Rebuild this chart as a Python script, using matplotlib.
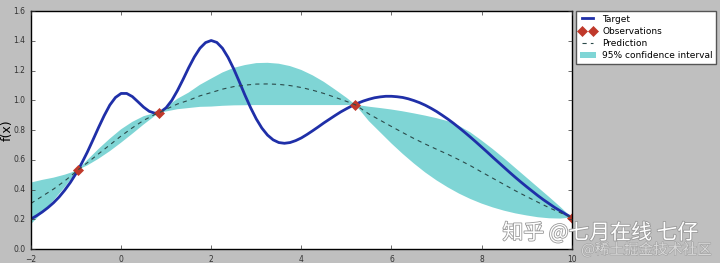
import numpy as np
import matplotlib
matplotlib.use("Agg")
import matplotlib.pyplot as plt
import matplotlib.patheffects as pe

# target function
x_target = [-2.0, -1.875, -1.75, -1.625, -1.5, -1.375, -1.25, -1.125,
            -1.0, -0.875, -0.75, -0.625, -0.5, -0.375, -0.25, -0.125,
            0.0, 0.125, 0.25, 0.375, 0.5, 0.625, 0.75, 0.875,
            1.0, 1.125, 1.25, 1.375, 1.5, 1.625, 1.75, 1.875,
            2.0, 2.125, 2.25, 2.375, 2.5, 2.625, 2.75, 2.875,
            3.0, 3.125, 3.25, 3.375, 3.5, 3.625, 3.75, 3.875,
            4.0, 4.125, 4.25, 4.375, 4.5, 4.625, 4.75, 4.875,
            5.0, 5.125, 5.25, 5.375, 5.5, 5.625, 5.75, 5.875,
            6.0, 6.125, 6.25, 6.375, 6.5, 6.625, 6.75, 6.875,
            7.0, 7.125, 7.25, 7.375, 7.5, 7.625, 7.75, 7.875,
            8.0, 8.125, 8.25, 8.375, 8.5, 8.625, 8.75, 8.875,
            9.0, 9.125, 9.25, 9.375, 9.5, 9.625, 9.75, 9.875, 10.0]
y_target = [0.202, 0.224, 0.249, 0.278, 0.311, 0.350, 0.396, 0.448,
            0.508, 0.576, 0.651, 0.733, 0.817, 0.897, 0.968, 1.019,
            1.046, 1.046, 1.025, 0.990, 0.954, 0.926, 0.913, 0.921,
            0.950, 0.999, 1.065, 1.140, 1.219, 1.291, 1.350, 1.388,
            1.402, 1.389, 1.350, 1.288, 1.211, 1.124, 1.034, 0.950,
            0.875, 0.813, 0.766, 0.734, 0.716, 0.711, 0.716, 0.729,
            0.747, 0.770, 0.795, 0.821, 0.848, 0.873, 0.898, 0.922,
            0.943, 0.963, 0.980, 0.995, 1.007, 1.017, 1.023, 1.027,
            1.027, 1.024, 1.019, 1.010, 0.998, 0.984, 0.967, 0.947,
            0.925, 0.900, 0.874, 0.846, 0.816, 0.785, 0.753, 0.720,
            0.686, 0.652, 0.617, 0.583, 0.549, 0.515, 0.482, 0.450,
            0.419, 0.389, 0.359, 0.331, 0.305, 0.279, 0.256, 0.233, 0.212]

# observations
x_obs = [-0.95, 0.85, 5.2, 10.0]
y_obs = [0.534, 0.917, 0.970, 0.212]

# GP prediction and the edges of the 95% band
x_gp = [-2.0, -1.75, -1.5, -1.25, -1.1, -0.95,
        -0.75, -0.5, -0.25, 0.0, 0.25, 0.5, 0.75, 0.85,
        1.0, 1.25, 1.5, 1.75, 2.0, 2.25, 2.5, 2.75, 3.0, 3.25,
        3.5, 3.75, 4.0, 4.25, 4.5, 4.75, 5.0, 5.2,
        5.5, 5.75, 6.0, 6.25, 6.5, 6.75, 7.0, 7.25, 7.5, 7.75,
        8.0, 8.25, 8.5, 8.75, 9.0, 9.25, 9.5, 9.75, 10.0]
y_mean = [0.307, 0.355, 0.403, 0.458, 0.495, 0.534,
          0.580, 0.640, 0.700, 0.760, 0.815, 0.865, 0.905, 0.917,
          0.940, 0.975, 1.000, 1.030, 1.052, 1.075, 1.092, 1.102, 1.109, 1.110,
          1.107, 1.099, 1.086, 1.068, 1.046, 1.020, 0.993, 0.970,
          0.908, 0.866, 0.824, 0.783, 0.743, 0.706, 0.671, 0.637, 0.600, 0.561,
          0.518, 0.476, 0.434, 0.392, 0.353, 0.315, 0.278, 0.244, 0.212]
y_lower = [0.167, 0.245, 0.326, 0.416, 0.475, 0.534,
           0.562, 0.607, 0.658, 0.715, 0.775, 0.837, 0.895, 0.917,
           0.925, 0.940, 0.948, 0.956, 0.958, 0.963, 0.966, 0.967, 0.968, 0.968,
           0.968, 0.968, 0.968, 0.968, 0.968, 0.968, 0.968, 0.970,
           0.860, 0.785, 0.710, 0.640, 0.575, 0.515, 0.462, 0.415, 0.373, 0.337,
           0.306, 0.280, 0.258, 0.240, 0.226, 0.214, 0.207, 0.205, 0.212]
y_upper = [0.447, 0.465, 0.480, 0.500, 0.515, 0.534,
           0.598, 0.673, 0.742, 0.805, 0.855, 0.893, 0.915, 0.917,
           0.955, 1.010, 1.052, 1.104, 1.146, 1.187, 1.218, 1.237, 1.250, 1.252,
           1.246, 1.230, 1.204, 1.168, 1.124, 1.072, 1.018, 0.970,
           0.957, 0.948, 0.938, 0.926, 0.912, 0.897, 0.880, 0.860, 0.828, 0.785,
           0.730, 0.672, 0.610, 0.545, 0.480, 0.415, 0.350, 0.283, 0.212]

plt.style.use('classic')
plt.rcParams['font.family'] = ['DejaVu Sans']

fig = plt.figure(figsize=(7.2, 2.63), dpi=100)
ax = fig.add_axes([0.043, 0.053, 0.751, 0.905])

ax.plot(x_target, y_target, color='#1f2fa8', linewidth=2, label='Target')
ax.plot(x_obs, y_obs, 'D', markersize=5, color='#c0392b',
        markeredgecolor='#c0392b', label='Observations')
ax.plot(x_gp, y_mean, '--', dashes=(3, 3), color='#2b4a4a', linewidth=0.8,
        label='Prediction')
ax.fill_between(x_gp, y_lower, y_upper, facecolor='#7fd5d5', edgecolor='none',
                label='95% confidence interval')

ax.set_xlim(-2, 10)
ax.set_ylim(0, 1.6)
ax.set_xticks(np.arange(-2, 11, 2))
ax.set_yticks(np.arange(0, 1.61, 0.2))
ax.tick_params(labelsize=5.5, colors='#333333', length=3)
ax.set_ylabel('f(x)', fontsize=9, labelpad=0)

leg = ax.legend(loc='upper left', bbox_to_anchor=(1.008, 1.0), borderaxespad=0,
                fontsize=6.5, numpoints=2, handlelength=1.8, labelspacing=0.35,
                borderpad=0.4, handletextpad=0.7)
leg.get_frame().set_edgecolor('#555555')

# watermarks
cjk = ['Noto Sans CJK SC', 'DejaVu Sans']
fig.text(0.834, 0.114, '知乎 @七月在线 七仔', family=cjk, fontsize=15,
         color='white', ha='center', va='center',
         path_effects=[pe.withStroke(linewidth=1.2, foreground='#999999')])
fig.text(0.898, 0.05, '@稀土掘金技术社区', family=cjk, fontsize=10.5,
         color='#d8d8d8', ha='center', va='center',
         path_effects=[pe.withStroke(linewidth=0.8, foreground='#a0a0a0')])

fig.savefig('out.png', dpi=100, facecolor=fig.get_facecolor())
